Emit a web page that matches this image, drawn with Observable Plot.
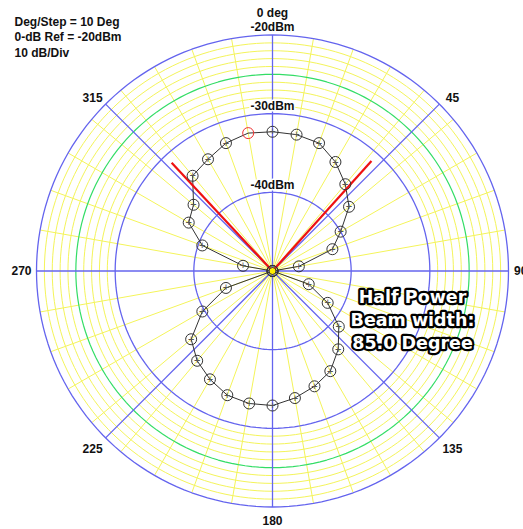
<!DOCTYPE html>
<html><head><meta charset="utf-8">
<script src="https://cdn.jsdelivr.net/npm/d3@7"></script>
<script src="https://cdn.jsdelivr.net/npm/@observablehq/plot@0.6"></script>
<style>html,body{margin:0;padding:0;background:#fff}</style>
</head><body><div id="chart"></div>
<script>
// ---- data ----
const angles = [0,10,20,30,40,50,60,70,80,90,100,110,120,130,140,150,160,170,180,190,200,210,220,230,240,250,260,270,280,290,300,310,320,330,340,350];
const levels = [-32.3,-32.4,-32.7,-34.0,-35.6,-37.3,-40.0,-41.9,-46.6,-50,-50,-45.1,-41.9,-39.0,-37.0,-35.3,-34.4,-33.6,-32.9,-32.9,-33.2,-34.1,-35.1,-36.5,-39.7,-43.7,-50,-50,-46.2,-40.5,-37.7,-36.9,-34.2,-33.6,-32.7,-32.2];
const maxAngle = 350;
const hpbwAngles = [317, 42];
const hpbwLevel = -31.2;
const refDb = -20, minDb = -50;
const majorRings = [-20, -30, -40];
const minorRings = [-21, -22, -23, -24, -26, -27, -28, -29];
const greenRings = [-25];
const ringLabels = ["-20dBm", "-30dBm", "-40dBm"];
const spokeMinor = d3.range(0, 360, 10);
const spokeMajor = [0, 45, 90, 135, 180, 225, 270, 315];
const infoLines = ["Deg/Step = 10 Deg", "0-dB Ref = -20dBm", "10 dB/Div"];
const beamLines = ["Half Power", "Beam width:", "85.0 Degree"];

// ---- helpers ----
const rad = db => Math.max(0, db - minDb);
const X = (a, r) => r * Math.sin(a * Math.PI / 180);
const Y = (a, r) => r * Math.cos(a * Math.PI / 180);
const ring = lv => d3.range(0, 361, 2).map(a => ({lv, a}));
const pts = angles.map((a, i) => ({a, db: levels[i]}));
const closed = [...pts, pts[0]];

const blue = "#6464ee", yellow = "#f4f45a", green = "#33dd66";
const F = "Liberation Sans, Arial, sans-serif";

const chart = Plot.plot({
  width: 523, height: 529, margin: 0,
  x: {domain: [-30, 30], range: [272 - 236, 272 + 236], axis: null},
  y: {domain: [-30, 30], range: [270.5 + 236, 270.5 - 236], axis: null},
  style: {background: "white", overflow: "visible"},
  marks: [
    Plot.link(spokeMinor.filter(a => a % 90 !== 0), {x1: () => 0, y1: () => 0, x2: a => X(a, 30), y2: a => Y(a, 30), stroke: yellow, strokeWidth: 1}),
    Plot.line(minorRings.flatMap(ring), {x: d => X(d.a, rad(d.lv)), y: d => Y(d.a, rad(d.lv)), z: "lv", stroke: yellow, strokeWidth: 1}),
    Plot.line(greenRings.flatMap(ring), {x: d => X(d.a, rad(d.lv)), y: d => Y(d.a, rad(d.lv)), z: "lv", stroke: green, strokeWidth: 1.2}),
    Plot.line(majorRings.flatMap(ring), {x: d => X(d.a, rad(d.lv)), y: d => Y(d.a, rad(d.lv)), z: "lv", stroke: blue, strokeWidth: 1.3}),
    Plot.link(spokeMajor, {x1: () => 0, y1: () => 0, x2: a => X(a, 30), y2: a => Y(a, 30), stroke: blue, strokeWidth: 1.3}),
    Plot.line(closed, {x: d => X(d.a, rad(d.db)), y: d => Y(d.a, rad(d.db)), stroke: "#333", strokeWidth: 1, curve: "linear"}),
    Plot.link(hpbwAngles, {x1: () => 0, y1: () => 0, x2: a => X(a, rad(hpbwLevel)), y2: a => Y(a, rad(hpbwLevel)), stroke: "#ee1111", strokeWidth: 2.2}),
    Plot.dot(pts.filter(d => d.a !== maxAngle), {x: d => X(d.a, rad(d.db)), y: d => Y(d.a, rad(d.db)), r: 5.5, stroke: "#333", strokeWidth: 1, fill: "none"}),
    Plot.text(pts.filter(d => d.a !== maxAngle), {x: d => X(d.a, rad(d.db)), y: d => Y(d.a, rad(d.db)), text: () => "+", fontSize: 11, fill: "#555", fontFamily: F}),
    Plot.dot(pts.filter(d => d.a === maxAngle), {x: d => X(d.a, rad(d.db)), y: d => Y(d.a, rad(d.db)), r: 5.5, stroke: "#ee3333", strokeWidth: 1, fill: "none"}),
    Plot.dot([0], {x: () => 0, y: () => 0, r: 3.5, fill: "#ffee00", stroke: "#333", strokeWidth: 1}),
    Plot.text(majorRings, {x: () => 0, y: lv => rad(lv), text: (lv, i) => ringLabels[i], dy: -7.5, fontSize: 12, fontWeight: "bold", fontFamily: F, fill: "#111", stroke: "white", strokeWidth: 3}),
    Plot.text([0], {x: () => 0, y: () => 32.73, text: () => "0 deg", fontSize: 12, fontWeight: "bold", fontFamily: F, fill: "#111"}),
    Plot.text([180], {x: () => 0, y: () => -31.84, text: () => "180", fontSize: 12, fontWeight: "bold", fontFamily: F, fill: "#111"}),
    Plot.text([90], {x: () => 30.7, y: () => 0, text: () => "90", textAnchor: "start", fontSize: 12, fontWeight: "bold", fontFamily: F, fill: "#111"}),
    Plot.text([270], {x: () => -30.63, y: () => 0, text: () => "270", textAnchor: "end", fontSize: 12, fontWeight: "bold", fontFamily: F, fill: "#111"}),
    Plot.text([315, 45], {x: a => X(a, 32.35), y: a => Y(a, 32.35), text: a => String(a), dy: 7, fontSize: 12, fontWeight: "bold", fontFamily: F, fill: "#111"}),
    Plot.text([225, 135], {x: a => X(a, 32.35), y: a => Y(a, 32.35), text: a => String(a), dy: -2, fontSize: 12, fontWeight: "bold", fontFamily: F, fill: "#111"}),
    Plot.text([infoLines.join("\n")], {frameAnchor: "top-left", dx: 14, dy: 14, text: d => d, textAnchor: "start", lineAnchor: "top", lineHeight: 1.3, fontSize: 12, fontWeight: "bold", fontFamily: F, fill: "#111"}),
    Plot.text([beamLines.join("\n")], {frameAnchor: "top-left", dx: 412, dy: 286, text: d => d, textAnchor: "middle", lineAnchor: "top", lineHeight: 1.32, fontSize: 17.5, fontWeight: "bold", fontFamily: "DejaVu Sans, sans-serif", fill: "white", stroke: "black", strokeWidth: 4.5, strokeLinejoin: "round", paintOrder: "stroke"})
  ]
});
document.getElementById("chart").appendChild(chart);
</script>
</body></html>
